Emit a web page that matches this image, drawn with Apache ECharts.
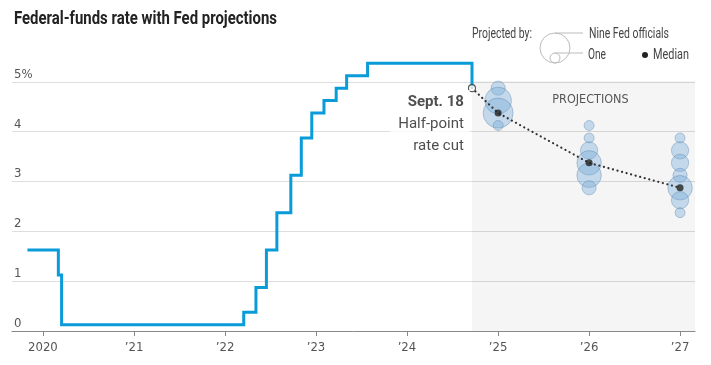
<!DOCTYPE html>
<html><head><meta charset="utf-8">
<script src="https://cdn.jsdelivr.net/npm/echarts@6/dist/echarts.min.js"></script>
<style>html,body{margin:0;padding:0;background:#fff}#c{width:711px;height:365px}</style>
</head><body><div id="c"></div>
<script>
const NARROW = "'Liberation Sans Narrow','DejaVu Sans Condensed','Roboto',sans-serif";
const REG = "'Roboto','Liberation Sans',sans-serif";

// Fed funds target-range midpoint, by change date
const changeDates = ['2019-10-31','2020-03-03','2020-03-16','2022-03-17','2022-05-05','2022-06-16','2022-07-28','2022-09-22','2022-11-03','2022-12-15','2023-02-02','2023-03-23','2023-05-04','2023-07-27','2024-09-18'];
const rateMid = [1.625,1.125,0.125,0.375,0.875,1.625,2.375,3.125,3.875,4.375,4.625,4.875,5.125,5.375,4.875];

// Projections (dot plot) plotted at start of following year
const projDates = ['2025-01-01','2026-01-01','2027-01-01'];
const projLevels = [[4.875,4.625,4.375,4.125],[4.125,3.875,3.625,3.375,3.125,2.875],[3.875,3.625,3.375,3.125,2.875,2.625,2.375]];
const projCounts = [[2,7,9,1],[1,1,3,6,6,2],[1,3,3,2,6,3,1]];
const medians = [4.375,3.375,2.875];

const xTickYears = [2020,2021,2022,2023,2024,2025,2026,2027];
const yMax = 5.5;
const axisStart = '2019-08-30', axisEnd = '2027-03-02';
const cutDate = '2024-09-18', cutRate = 4.875;

const t = s => Date.parse(s + 'T00:00:00Z');
const sizeOf = n => 10 * Math.sqrt(n);

const stepData = changeDates.map((d,i)=>[t(d), rateMid[i]]);
const bubbleData = [];
projDates.forEach((d,i)=>projLevels[i].forEach((lv,j)=>bubbleData.push([t(d), lv, projCounts[i][j]])));
const medianData = projDates.map((d,i)=>[t(d), medians[i]]);
const dottedData = [[t(cutDate), cutRate]].concat(medianData);
const yearTicks = xTickYears.map(y=>Date.UTC(y,0,1));

// condensed text helper (horizontal scale to a target width)
const mctx = document.createElement('canvas').getContext('2d');
function fitText(text, font, x, y, w, fill){
  mctx.font = font;
  const s = w / mctx.measureText(text).width;
  return {type:'text', x:x, y:y, scaleX:s, style:{text:text, font:font, fill:fill, verticalAlign:'middle', align:'left'}};
}

const chart = echarts.init(document.getElementById('c'));
const gray = '#bbb';
chart.setOption({
  animation:false,
  grid:{left:12, right:16, top:57, bottom:34, containLabel:false},
  xAxis:{type:'value', min:t(axisStart), max:t(axisEnd),
    axisLine:{lineStyle:{color:'#888', width:1}},
    axisTick:{show:true, length:5, customValues:yearTicks, lineStyle:{color:'#888'}},
    axisLabel:{customValues:yearTicks, margin:10, color:'#555', fontFamily:NARROW, fontSize:13,
      formatter:v=>{const y=new Date(v).getUTCFullYear(); return y===2020?'2020':'\u2019'+String(y).slice(2);}},
    splitLine:{show:false}},
  yAxis:{type:'value', min:0, max:yMax, interval:1,
    axisLine:{show:false}, axisTick:{show:false},
    splitLine:{show:true, showMinLine:false, showMaxLine:false, lineStyle:{color:'#ddd', width:1}},
    axisLabel:{inside:true, margin:2, verticalAlign:'bottom', padding:[0,0,1,0], showMaxLabel:false,
      color:'#555', fontFamily:NARROW, fontSize:13, formatter:v=>v===5?'5%':String(v)}},
  graphic:[
    fitText('Federal-funds rate with Fed projections', 'bold 18px '+REG, 14, 19, 263, '#222'),
    fitText('Projected by:', '14px '+REG, 472, 34, 60, '#444'),
    {type:'circle', shape:{cx:555, cy:48, r:sizeOf(9)/2}, style:{fill:'none', stroke:gray, lineWidth:1}},
    {type:'circle', shape:{cx:555, cy:58, r:sizeOf(1)/2}, style:{fill:'none', stroke:gray, lineWidth:1}},
    {type:'line', shape:{x1:555, y1:33, x2:583, y2:33}, style:{stroke:gray, lineWidth:1}},
    {type:'line', shape:{x1:555, y1:53, x2:583, y2:53}, style:{stroke:gray, lineWidth:1}},
    fitText('Nine Fed officials', '14px '+REG, 589, 34, 80, '#444'),
    fitText('One', '14px '+REG, 588, 55, 18, '#444'),
    {type:'circle', shape:{cx:645, cy:55, r:3}, style:{fill:'#222'}},
    fitText('Median', '14px '+REG, 653, 55, 36, '#444')
  ],
  series:[
    {type:'line', data:stepData, step:'end', showSymbol:false, symbol:'none', z:3,
      lineStyle:{color:'#0a9bd9', width:3, join:'miter'},
      markArea:{silent:true, itemStyle:{color:'rgba(0,0,0,0.04)'},
        label:{show:true, position:'insideTop', distance:12, offset:[7,0], color:'#555', fontFamily:NARROW, fontSize:12.5},
        data:[[{name:'PROJECTIONS', xAxis:t(cutDate), yAxis:0},{xAxis:t(axisEnd), yAxis:5.02}]]}},
    {type:'scatter', data:bubbleData, symbolSize:v=>sizeOf(v[2]), z:4,
      itemStyle:{color:'rgba(120,172,218,0.5)', borderColor:'rgba(90,130,170,0.5)', borderWidth:1}},
    {type:'line', data:dottedData, showSymbol:false, symbol:'none', z:5,
      lineStyle:{color:'#333', width:2.2, type:[0.1,4.6], cap:'round'}},
    {type:'scatter', data:medianData, symbolSize:7, z:6, itemStyle:{color:'#222'}},
    {type:'scatter', data:[[t(cutDate), cutRate]], symbolSize:7, z:7,
      itemStyle:{color:'#fff', borderColor:'#333', borderWidth:1.2},
      label:{show:true, position:[2,6], align:'right', verticalAlign:'top', backgroundColor:'#fff', padding:[1,6,2,8],
        formatter:'{b|Sept. 18}\n{r|Half-point}\n{r|rate cut}',
        rich:{b:{fontFamily:REG, fontSize:15, fontWeight:'bold', color:'#222', lineHeight:22, align:'right'},
              r:{fontFamily:REG, fontSize:15, color:'#222', lineHeight:22, align:'right'}}}}
  ]
});
</script></body></html>
